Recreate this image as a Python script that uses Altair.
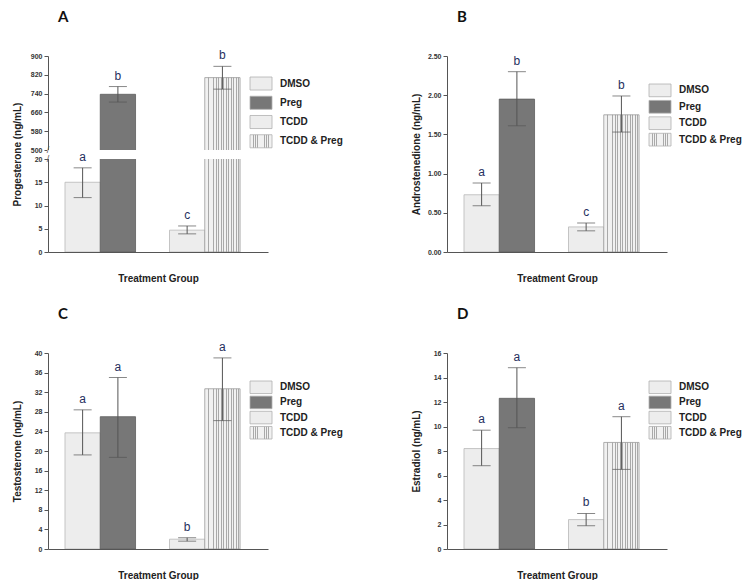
import altair as alt
import pandas as pd

# ---------------- data ----------------
treatments = ["DMSO", "Preg", "TCDD", "TCDD & Preg"]
groups = ["Control", "Control", "TCDD", "TCDD"]
preg = ["no", "yes", "no", "yes"]

panel_letters = ["A", "B", "C", "D"]
y_titles = ["Progesterone (ng/mL)", "Androstenedione (ng/mL)",
            "Testosterone (ng/mL)", "Estradiol (ng/mL)"]

prog_mean = [15.0, 737, 4.7, 808]
prog_lo = [11.7, 704, 3.9, 759]
prog_hi = [18.1, 770, 5.6, 856]
prog_sig = ["a", "b", "c", "b"]

andro_mean = [0.73, 1.95, 0.32, 1.75]
andro_lo = [0.59, 1.61, 0.27, 1.53]
andro_hi = [0.88, 2.30, 0.37, 1.99]
andro_sig = ["a", "b", "c", "b"]

testo_mean = [23.7, 27.0, 2.0, 32.7]
testo_lo = [19.2, 18.7, 1.6, 26.2]
testo_hi = [28.4, 35.0, 2.3, 39.0]
testo_sig = ["a", "a", "b", "a"]

estra_mean = [8.2, 12.3, 2.4, 8.7]
estra_lo = [6.8, 9.9, 1.9, 6.5]
estra_hi = [9.7, 14.8, 2.9, 10.8]
estra_sig = ["a", "a", "b", "a"]

prog_ticks = [0, 5, 10, 15, 20, 500, 580, 660, 740, 820, 900]
andro_ticks = [0, 0.5, 1.0, 1.5, 2.0, 2.5]
testo_ticks = [0, 4, 8, 12, 16, 20, 24, 28, 32, 36, 40]
estra_ticks = [0, 2, 4, 6, 8, 10, 12, 14, 16]
break_vals = [20, 500]

# ---------------- style ----------------
W, H = 220, 196
LIGHT = "#ededed"
DARK = "#777777"
AXC = "#555555"
LETTER_C = "#26305e"
FONT = "Liberation Sans"


def stripes(n, base="#f1f1f1", line="#a9a9a9", frac=0.33):
    stops = [{"offset": 0, "color": base}]
    for i in range(n):
        c = (i + 0.5) / n
        a = c - frac / (2 * n)
        b = c + frac / (2 * n)
        stops += [{"offset": a, "color": base}, {"offset": a, "color": line},
                  {"offset": b, "color": line}, {"offset": b, "color": base}]
    stops.append({"offset": 1, "color": base})
    return {"gradient": "linear", "x1": 0, "y1": 0, "x2": 1, "y2": 0, "stops": stops}


BAR_STRIPES = stripes(14)
LEG_STRIPES = stripes(10)

color_scale = alt.Scale(domain=treatments, range=[LIGHT, DARK, LIGHT, LIGHT])
stroke_scale = alt.Scale(domain=treatments, range=["#b8b8b8", "#5e5e5e", "#b8b8b8", "#9a9a9a"])


def panel(letter, ytitle, mean, lo, hi, sig, ticks, yscale, fmt, leg_top, leg_step, broken=False):
    df = pd.DataFrame({"treatment": treatments, "grp": groups, "preg": preg,
                       "mean": mean, "lo": lo, "hi": hi, "sig": sig})
    x = alt.X("grp:N", scale=alt.Scale(domain=["Control", "TCDD"], paddingInner=0.325,
                                       paddingOuter=0.215, align=0.378),
              axis=alt.Axis(title="Treatment Group", labels=False, ticks=False,
                            domainColor=AXC, titlePadding=21, titleFontSize=10,
                            titleFont=FONT, titleFontWeight="bold", titleColor="#222"))
    xo = alt.XOffset("preg:N", scale=alt.Scale(domain=["no", "yes"], paddingInner=0, paddingOuter=0))
    yaxis = alt.Axis(values=ticks, format=fmt, title=ytitle, titleX=-26,
                     titleAngle=270, titleBaseline="bottom", titleAlign="center",
                     titleFontSize=10, titleFont=FONT, titleFontWeight="bold",
                     titleColor="#222", labelFontSize=7, labelFont=FONT,
                     labelFontWeight="bold", labelColor="#333", labelPadding=2,
                     tickSize=4, tickColor=AXC, domainColor=AXC, grid=False)
    fill = alt.condition(alt.datum.treatment == "TCDD & Preg", alt.value(BAR_STRIPES),
                         alt.Fill("treatment:N", scale=color_scale, legend=None))
    base = alt.Chart(df)
    bars = base.mark_bar(clip=True, strokeWidth=0.8).encode(
        x=x, xOffset=xo,
        y=alt.Y("mean:Q", scale=yscale, axis=yaxis),
        y2=alt.datum(0),
        fill=fill,
        stroke=alt.Stroke("treatment:N", scale=stroke_scale, legend=None),
    )
    layers = [bars]
    if broken:
        gap = alt.Chart(pd.DataFrame({"b": [break_vals[0]], "t": [break_vals[1]]})).mark_rect(
            color="white").encode(
            x=alt.value(-1), x2=alt.value(W),
            y=alt.Y("b:Q", scale=yscale, axis=yaxis), y2="t:Q")
        marks = alt.Chart(pd.DataFrame({"v": break_vals})).mark_text(
            text="/", fontSize=9, color=AXC, font=FONT).encode(
            x=alt.value(0), y=alt.Y("v:Q", scale=yscale, axis=yaxis))
        layers += [gap, marks]
    rule = base.mark_rule(color=AXC, strokeWidth=1).encode(
        x=x, xOffset=xo, y=alt.Y("lo:Q", scale=yscale, axis=yaxis), y2="hi:Q")
    cap_lo = base.mark_tick(color=AXC, size=18, thickness=1).encode(
        x=x, xOffset=xo, y=alt.Y("lo:Q", scale=yscale, axis=yaxis))
    cap_hi = base.mark_tick(color=AXC, size=18, thickness=1).encode(
        x=x, xOffset=xo, y=alt.Y("hi:Q", scale=yscale, axis=yaxis))
    txt = base.mark_text(fontSize=12, font=FONT, color=LETTER_C, baseline="bottom", dy=-4).encode(
        x=x, xOffset=xo, y=alt.Y("hi:Q", scale=yscale, axis=yaxis), text="sig:N")
    layers += [rule, cap_lo, cap_hi, txt]
    main = alt.layer(*layers)

    dleg = pd.DataFrame({"treatment": treatments})
    ly = alt.Y("treatment:N", sort=treatments,
               scale=alt.Scale(domain=treatments, range=[leg_top, leg_top + 4 * leg_step],
                               paddingInner=1 - 12 / leg_step, paddingOuter=0),
               axis=None)
    lfill = alt.condition(alt.datum.treatment == "TCDD & Preg", alt.value(LEG_STRIPES),
                          alt.Fill("treatment:N", scale=color_scale, legend=None))
    leg_box = alt.Chart(dleg).mark_rect(stroke="#b0b0b0", strokeWidth=0.8).encode(
        x=alt.value(202), x2=alt.value(224), y=ly, fill=lfill)
    leg_txt = alt.Chart(dleg).mark_text(align="left", baseline="middle", fontSize=10, font=FONT,
                                        fontWeight="bold", color="#222").encode(
        x=alt.value(232), y=ly, text="treatment:N")
    head = alt.Chart(pd.DataFrame({"letter": [letter]})).mark_text(
        align="left", baseline="alphabetic", fontSize=15, font="Lato", fontWeight="bold",
        color="#111").encode(x=alt.value(10), y=alt.value(-34), text="letter:N")
    legend = alt.layer(leg_box, leg_txt, head)

    return alt.layer(main, legend).resolve_scale(y="independent").properties(width=W, height=H)


pA = panel("A", y_titles[0], prog_mean, prog_lo, prog_hi, prog_sig, prog_ticks,
           alt.Scale(domain=[0, 20, 500, 900], range=[H, 103, 94, 0], nice=False, zero=False),
           "d", 21, 17.7, broken=True)
pB = panel("B", y_titles[1], andro_mean, andro_lo, andro_hi, andro_sig, andro_ticks,
           alt.Scale(domain=[0, 2.5], nice=False), ".2f", 28, 15.5)
pC = panel("C", y_titles[2], testo_mean, testo_lo, testo_hi, testo_sig, testo_ticks,
           alt.Scale(domain=[0, 40], nice=False), "d", 28, 14.5)
pD = panel("D", y_titles[3], estra_mean, estra_lo, estra_hi, estra_sig, estra_ticks,
           alt.Scale(domain=[0, 16], nice=False), "d", 28, 14.5)

chart = alt.concat(pA, pB, pC, pD, columns=2,
                   spacing=alt.RowColnumber(row=101, column=179), bounds="flush").properties(
    padding={"left": 4, "top": 2, "right": 0, "bottom": 0}, background="white"
).configure_view(stroke=None)

chart.save("out.html", embed_options={"renderer": "svg", "actions": False})
